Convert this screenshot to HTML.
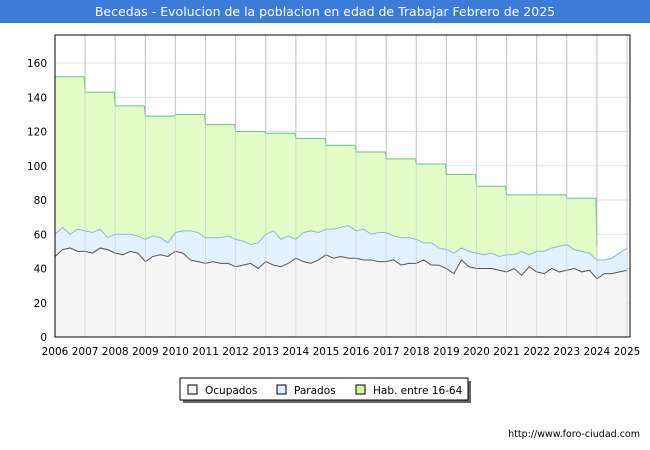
<!DOCTYPE html>
<html><head><meta charset="utf-8"><style>
body{margin:0;background:#fff;font-family:"DejaVu Sans",sans-serif}
#w{position:relative;width:650px;height:450px;overflow:hidden}
svg text{font-family:"DejaVu Sans",sans-serif}
</style></head><body>
<div id="w">
<svg id="s" width="650" height="450" xmlns="http://www.w3.org/2000/svg">
<rect x="0" y="0" width="650" height="23" fill="#3d7bd9"/>
<text x="325" y="16" text-anchor="middle" fill="#fff" font-size="12.5">Becedas - Evolucion de la poblacion en edad de Trabajar Febrero de 2025</text>
<g id="grid"></g><g id="marks"></g><g id="axes"></g>
<g>
<rect x="183" y="381" width="288" height="22" fill="#666"/>
<rect x="180" y="378" width="288" height="22" fill="#fff" stroke="#000"/>
<rect x="188" y="385" width="9" height="9" fill="#f5f5f5" stroke="#000"/>
<text x="205" y="394" font-size="10.5">Ocupados</text>
<rect x="277" y="385" width="9" height="9" fill="#ddeeff" stroke="#000"/>
<text x="294" y="394" font-size="10.5">Parados</text>
<rect x="356" y="385" width="9" height="9" fill="#ccff99" stroke="#000"/>
<text x="373" y="394" font-size="10.5">Hab. entre 16-64</text>
</g>
<text x="640" y="437" text-anchor="end" font-size="9.5">http://www.foro-ciudad.com</text>
</svg></div>
<script>
const years=[2006,2007,2008,2009,2010,2011,2012,2013,2014,2015,2016,2017,2018,2019,2020,2021,2022,2023,2024,2025];
const yTicks=[0,20,40,60,80,100,120,140,160];
const hab=[152,143,135,129,130,124,120,119,116,112,108,104,101,95,88,83,83,81];
const ocupados=[47,51,52,50,50,49,52,51,49,48,50,49,44,47,48,47,50,49,45,44,43,44,43,43,41,42,43,40,44,42,41,43,46,44,43,45,48,46,47,46,46,45,45,44,44,45,42,43,43,45,42,42,40,37,45,41,40,40,40,39,38,40,36,41,38,37,40,38,39,40,38,39,34,37,37,38,39];
const parados=[13,13,8,13,12,12,11,7,11,12,10,10,13,12,10,8,11,13,17,17,15,14,15,16,16,14,11,15,16,20,16,16,11,17,19,16,15,17,17,19,16,18,15,17,17,14,16,15,14,10,13,10,11,12,7,9,9,8,9,8,10,8,14,7,12,13,12,15,15,11,12,10,11,8,9,11,13];
const NS='http://www.w3.org/2000/svg';
const L=55,R=630,T=35,B=337;
const x=t=>L+(t-2006)*(627-L)/19;
const y=v=>B-v*(B-63)/160;
function mk(tag,attrs,parent){const e=document.createElementNS(NS,tag);for(const k in attrs)e.setAttribute(k,attrs[k]);document.getElementById(parent).appendChild(e);return e;}
mk('rect',{x:L,y:T,width:R-L,height:B-T,fill:'#fff'},'grid');
yTicks.forEach(v=>{const l=mk('line',{x1:L,x2:R,y1:y(v),y2:y(v),stroke:'#e0e0e0'},'grid');


const t=mk('text',{x:47,y:y(v)+4,'text-anchor':'end','font-size':10.5},'axes');t.textContent=v;

});
years.forEach(yr=>{const l=mk('line',{x1:x(yr),x2:x(yr),y1:T,y2:B,stroke:'#c8c8c8'},'grid');


const t=mk('text',{x:x(yr),y:355,'text-anchor':'middle','font-size':10.5},'axes');t.textContent=yr;

});
let d=`M${x(2006)},${y(0)}`;
hab.forEach((v,i)=>{const a=2006+i;d+=` L${x(a)+(i?-1:0)},${y(hab[i-1]??v)} L${x(a)},${y(v)} L${x(a+1)-1},${y(v)}`;});
d+=` L${x(2024)},${y(53)} L${x(2024)},${y(0)} Z`;
const hp=mk('path',{d:d,fill:'#e3fcc7',stroke:'none'},'marks');


let hl=`M${x(2006)},${y(hab[0])}`;
hab.forEach((v,i)=>{const a=2006+i;hl+=` L${x(a)+(i?-1:0)},${y(hab[i-1]??v)} L${x(a)},${y(v)} L${x(a+1)-1},${y(v)}`;});
hl+=` L${x(2024)},${y(53)}`;
const hln=mk('path',{d:hl,fill:'none',stroke:'#6cbf8a'},'marks');


const tx=i=>x(2006+i*19/(ocupados.length-1));
const tot=ocupados.map((v,i)=>v+parados[i]);
const line=a=>a.map((v,i)=>`${i?'L':'M'}${tx(i)},${y(v)}`).join(' ');
const base=` L${tx(ocupados.length-1)},${y(0)} L${tx(0)},${y(0)} Z`;
const pa=mk('path',{d:line(tot)+base,fill:'#e3f1fe'},'marks');


const oa=mk('path',{d:line(ocupados)+base,fill:'#f5f5f5'},'marks');


const pl=mk('path',{d:line(tot),fill:'none',stroke:'#8fb2e8'},'marks');


const ol=mk('path',{d:line(ocupados),fill:'none',stroke:'#555'},'marks');


years.forEach(yr=>{mk('line',{x1:x(yr),x2:x(yr),y1:T,y2:B,stroke:'#c8c8c8','stroke-opacity':0.6},'marks');});
const fr=mk('rect',{x:L,y:T,width:R-L,height:B-T,fill:'none',stroke:'#000'},'axes');


</script>
</body></html>
